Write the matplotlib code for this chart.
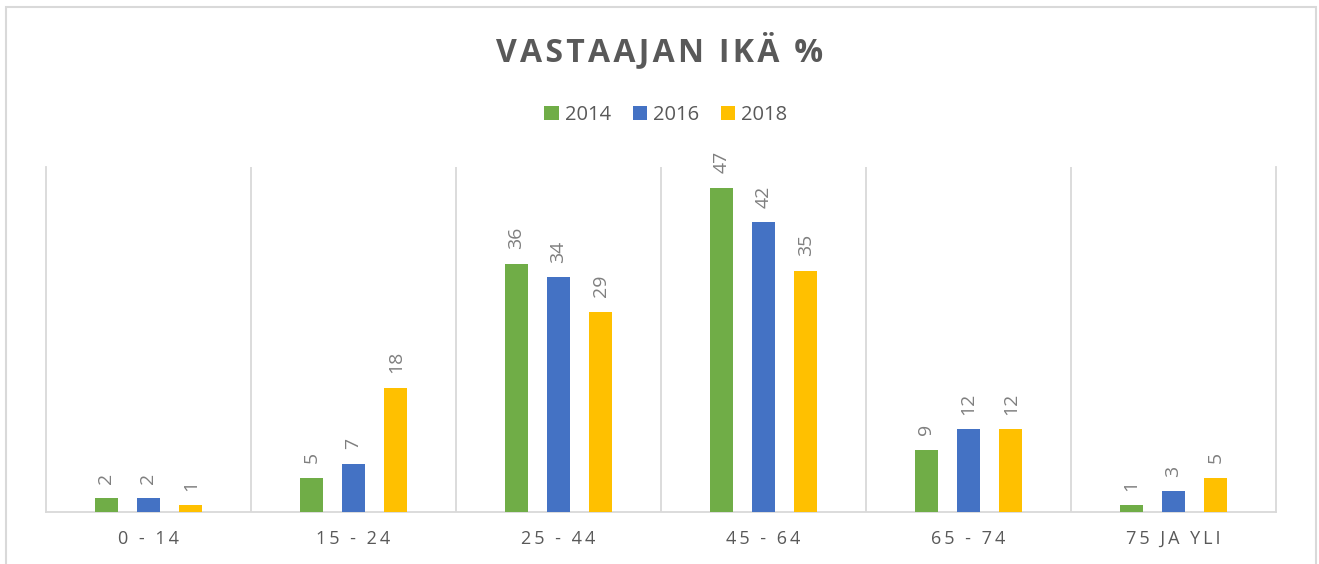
import numpy as np
import matplotlib
matplotlib.use("Agg")
import matplotlib.pyplot as plt
from matplotlib.patches import Rectangle

# data
categories = ["0 - 14", "15 - 24", "25 - 44", "45 - 64", "65 - 74", "75 JA YLI"]
years = ["2014", "2016", "2018"]
v2014 = [2, 5, 36, 47, 9, 1]
v2016 = [2, 7, 34, 42, 12, 3]
v2018 = [1, 18, 29, 35, 12, 5]
series = [v2014, v2016, v2018]
colors = ["#70AD47", "#4472C4", "#FFC000"]

plt.rcParams['font.family'] = ['Open Sans', 'DejaVu Sans']


def spaced(s, sep='\u2009'):
    # mimic Excel character spacing
    return sep.join(list(s))


fig = plt.figure(figsize=(13.19, 5.64), dpi=100)
ax = fig.add_axes([46 / 1319, 52 / 564, 1230 / 1319, 345 / 564])

x = np.arange(len(categories))
width = 0.112
offsets = [-0.206, 0, 0.206]
for vals, off, col, yr in zip(series, offsets, colors, years):
    bars = ax.bar(x + off, vals, width, color=col, label=yr, zorder=3)
    for b, v in zip(bars, vals):
        ax.annotate(str(v), (b.get_x() + b.get_width() / 2, v),
                    xytext=(0, 10.5), textcoords='offset points',
                    rotation=90, ha='center', va='bottom',
                    fontsize=14, color='#7F7F7F')

ax.set_xlim(-0.5, len(categories) - 0.5)
ax.set_ylim(0, 50)
ax.set_yticks([])
ax.set_xticks(x)
ax.set_xticklabels([spaced(c) for c in categories], fontsize=13, color='#595959')
ax.tick_params(axis='x', length=0, pad=13)

# category separators
for sep in np.arange(0.5, len(categories) - 0.5, 1):
    ax.axvline(sep, color='#D9D9D9', lw=1.3, zorder=1)

ax.spines['top'].set_visible(False)
for side in ['left', 'right', 'bottom']:
    ax.spines[side].set_color('#D9D9D9')
    ax.spines[side].set_linewidth(1.3)

fig.text(0.5, 1 - 51 / 564, spaced("VASTAAJAN IKÄ %", '\u200a'), ha='center', va='center',
         fontsize=23, fontweight='bold', color='#595959')

leg = fig.legend(loc='center', bbox_to_anchor=(666 / 1319, 1 - 115 / 564), ncol=3,
                 frameon=False, fontsize=14.5, handlelength=0.7, handleheight=0.7,
                 handletextpad=0.3, columnspacing=1.1)
for t in leg.get_texts():
    t.set_color('#595959')

# outer chart border
fig.patches.append(Rectangle((6 / 1319, -0.1), 1310 / 1319, 1.1 - 7 / 564,
                             transform=fig.transFigure, fill=False,
                             edgecolor='#D9D9D9', lw=1.5))

fig.savefig("out.png", dpi=100)
